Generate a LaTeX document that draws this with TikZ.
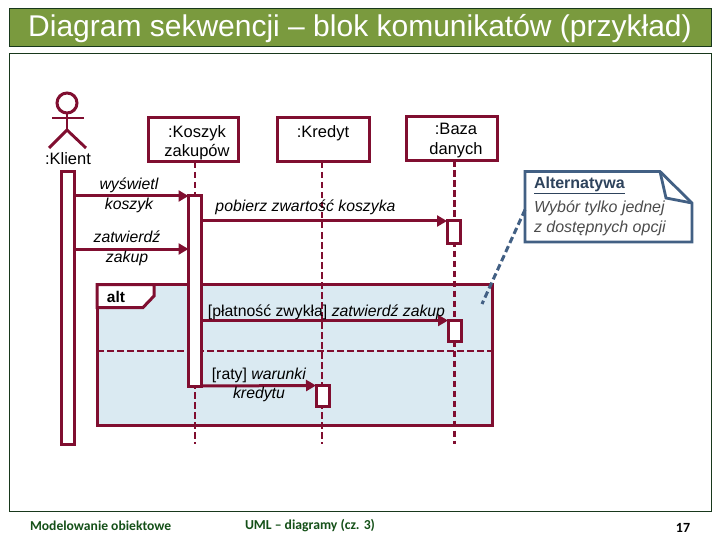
\documentclass[tikz,border=0pt]{standalone}
\usepackage{fontspec}
\setmainfont{Liberation Sans}
\newfontfamily\footfont{Carlito}
\usepackage{xcolor}
\definecolor{umlRed}{RGB}{128, 14, 48}
\definecolor{umlBlue}{RGB}{66, 96, 132}
\definecolor{umlFrame}{RGB}{218, 234, 242}
\definecolor{slideGreen}{RGB}{122, 154, 62}
\definecolor{slideDark}{RGB}{24, 56, 28}
\definecolor{footGreen}{RGB}{20, 80, 24}
\usetikzlibrary{
    arrows.meta,
    calc
}

\begin{document}
\begin{tikzpicture}[
    x=1pt, y=-1pt,
    every node/.style={outer sep=0pt},
    objBox/.style={
        rectangle, draw=umlRed, line width=3pt, fill=white,
        minimum width=90.5pt, minimum height=44pt, inner sep=0pt
    },
    objLabel/.style={
        align=center, inner sep=0pt, font=\fontsize{16.5}{19.5}\selectfont
    },
    activation/.style={
        rectangle, draw=umlRed, line width=3pt, fill=white,
        minimum width=13pt, inner sep=0pt
    },
    lifeLine/.style={
        draw=umlRed, line width=2.9pt, dash pattern=on 6.5pt off 3.5pt
    },
    msgLine/.style={
        -{Triangle[length=10pt, width=11pt]}, draw=umlRed, line width=3pt
    },
    msgLabel/.style={
        align=center, inner sep=0pt, font=\fontsize{15.8}{19.5}\selectfont\itshape
    }
]
    \useasboundingbox (0,0) rectangle (720,540);

    % Slide Frame
    \node[rectangle, draw=slideDark, line width=1pt, fill=slideGreen, anchor=north west,
        minimum width=702pt, minimum height=38.5pt, inner sep=0pt] (titleBar) at (9.5,8.5) {};
    \node[text=white, inner sep=0pt, font=\fontsize{30}{34}\selectfont] (titleText) at (360,29)
        {Diagram sekwencji – blok komunikatów (przykład)};
    \node[rectangle, draw=slideDark, line width=1pt, anchor=north west,
        minimum width=702pt, minimum height=457pt, inner sep=0pt] (slideBody) at (9.5,54) {};

    % Alt Fragment
    \node[rectangle, draw=umlRed, line width=3pt, fill=umlFrame, anchor=north west,
        minimum width=395pt, minimum height=140.5pt, inner sep=0pt] (altFrame) at (97,284.5) {};
    \draw[umlRed, line width=3pt, fill=white] (altFrame.north west) -- (154,284.5) -- (154,296)
        -- (143,307.5) -- (97,307.5) -- cycle;
    \node[inner sep=0pt, font=\fontsize{15.5}{18}\selectfont\bfseries] (altText) at (116,296.5) {alt};
    \coordinate (altDivL) at (97,351);
    \coordinate (altDivR) at (492,351);
    \draw[lifeLine] (altDivL) -- (altDivR);

    % Client Actor
    \node[circle, draw=umlRed, line width=3pt, minimum size=20pt, inner sep=0pt] (actorHead) at (67,103) {};
    \coordinate (actorHip) at (67,130);
    \coordinate (armL) at (52,118);
    \coordinate (armR) at (84,118);
    \coordinate (legL) at (49,148);
    \coordinate (legR) at (86,148);
    \draw[umlRed, line width=2.9pt] (actorHead.south) -- (actorHip);
    \draw[umlRed, line width=2.9pt] (armL) -- (armR);
    \draw[umlRed, line width=2.9pt] (legL) -- (actorHip) -- (legR);
    \node[objLabel] (klientText) at (68,158.5) {:Klient};
    \node[activation, anchor=north, minimum height=272.5pt] (actKlient) at (67.5,171.5) {};

    % Object Boxes
    \node[objBox, anchor=north west] (boxKoszyk) at (148,118) {};
    \node[objLabel] (koszykText) at (197,142.5) {:Koszyk\hspace{8pt}\\zakupów};
    \node[objBox, anchor=north west, minimum width=92pt] (boxKredyt) at (277,118) {};
    \node[objLabel] (kredytText) at (323,133) {:Kredyt};
    \node[objBox, anchor=north west] (boxBaza) at (406.5,116.5) {};
    \node[objLabel] (bazaText) at (456,140.5) {:Baza\hspace{8pt}\\danych};

    % Life Lines
    \coordinate (endKoszyk) at (195,444);
    \coordinate (endKredyt) at (322,444);
    \coordinate (endBaza) at (454.5,444);
    \draw[lifeLine] (boxKoszyk.south -| endKoszyk) -- (endKoszyk);
    \draw[lifeLine] (boxKredyt.south -| endKredyt) -- (endKredyt);
    \draw[lifeLine] (boxBaza.south -| endBaza) -- (endBaza);

    % Activations
    \node[activation, anchor=north, minimum height=190pt] (actKoszyk) at (195,196) {};
    \node[activation, anchor=north, minimum height=21pt] (actKredyt) at (322.5,385.5) {};
    \node[activation, anchor=north, minimum height=22pt] (actBazaA) at (453.5,221) {};
    \node[activation, anchor=north, minimum height=21pt] (actBazaB) at (454.5,320.5) {};

    % Messages
    \coordinate (zakupY) at (127,249);
    \draw[msgLine] (actKlient.east |- actKoszyk.north) -- (actKoszyk.north west);
    \draw[msgLine] (actKlient.east |- zakupY) -- (actKoszyk.west |- zakupY);
    \draw[msgLine] (actKoszyk.east |- actBazaA.north) -- (actBazaA.north west);
    \draw[msgLine] (actKoszyk.east |- actBazaB.north) -- (actBazaB.north west);
    \draw[msgLine] (actKoszyk.south east) -- (actKredyt.north west);

    % Message Labels
    \node[msgLabel] (lblWyswietl) at (129,195.5) {wyświetl\\koszyk};
    \node[msgLabel] (lblZatwierdz) at (127,248.5) {zatwierdź\\zakup};
    \node[msgLabel] (lblPobierz) at (305.5,207.5) {pobierz zwartość koszyka};
    \node[msgLabel, font=\fontsize{15.8}{19.5}\selectfont] (lblPlatnosc) at (326.5,312.5)
        {[płatność zwykła] \textit{zatwierdź zakup}};
    \node[msgLabel, font=\fontsize{15.8}{19.5}\selectfont] (lblRaty) at (259,385)
        {[raty] \textit{warunki}\\\textit{kredytu}};

    % Note
    \node[rectangle, anchor=north west, minimum width=167pt, minimum height=70.5pt, inner sep=0pt] (noteBody) at (525,171.5) {};
    \draw[umlBlue, line width=2.8pt, fill=white] (noteBody.north west) -- (660,171.5)
        -- (noteBody.east |- 0,203) -- (noteBody.south east) -- (noteBody.south west) -- cycle;
    \draw[umlBlue, line width=2.8pt] (660,171.5) -- (666,198) -- (noteBody.east |- 0,203);
    \node[anchor=west, inner sep=0pt, text=umlBlue!70!black, font=\fontsize{16}{18}\selectfont\bfseries] (noteTitle) at (534,185.5)
        {\underline{Alternatywa}};
    \node[anchor=north west, align=left, inner sep=0pt, text=black!70,
        font=\fontsize{16}{20}\selectfont\itshape] (noteText) at (534,201) {Wybór tylko jednej\\z dostępnych opcji};
    \coordinate (noteEnd) at (482,304);
    \draw[umlBlue, line width=3pt, dash pattern=on 6.5pt off 3.5pt] ([yshift=-3pt]noteBody.west) -- (noteEnd);

    % Footer
    \node[anchor=west, inner sep=0pt, text=footGreen, font=\fontsize{13.6}{15}\selectfont\footfont\bfseries] (footLeft) at (30,525.5)
        {Modelowanie obiektowe};
    \node[anchor=west, inner sep=0pt, text=footGreen, font=\fontsize{13.7}{15}\selectfont\footfont\bfseries] (footMid) at (245,526)
        {UML – diagramy (cz. 3)};
    \node[inner sep=0pt, font=\fontsize{14}{15}\selectfont\footfont\bfseries] (footPage) at (683,528) {17};

\end{tikzpicture}
\end{document}
